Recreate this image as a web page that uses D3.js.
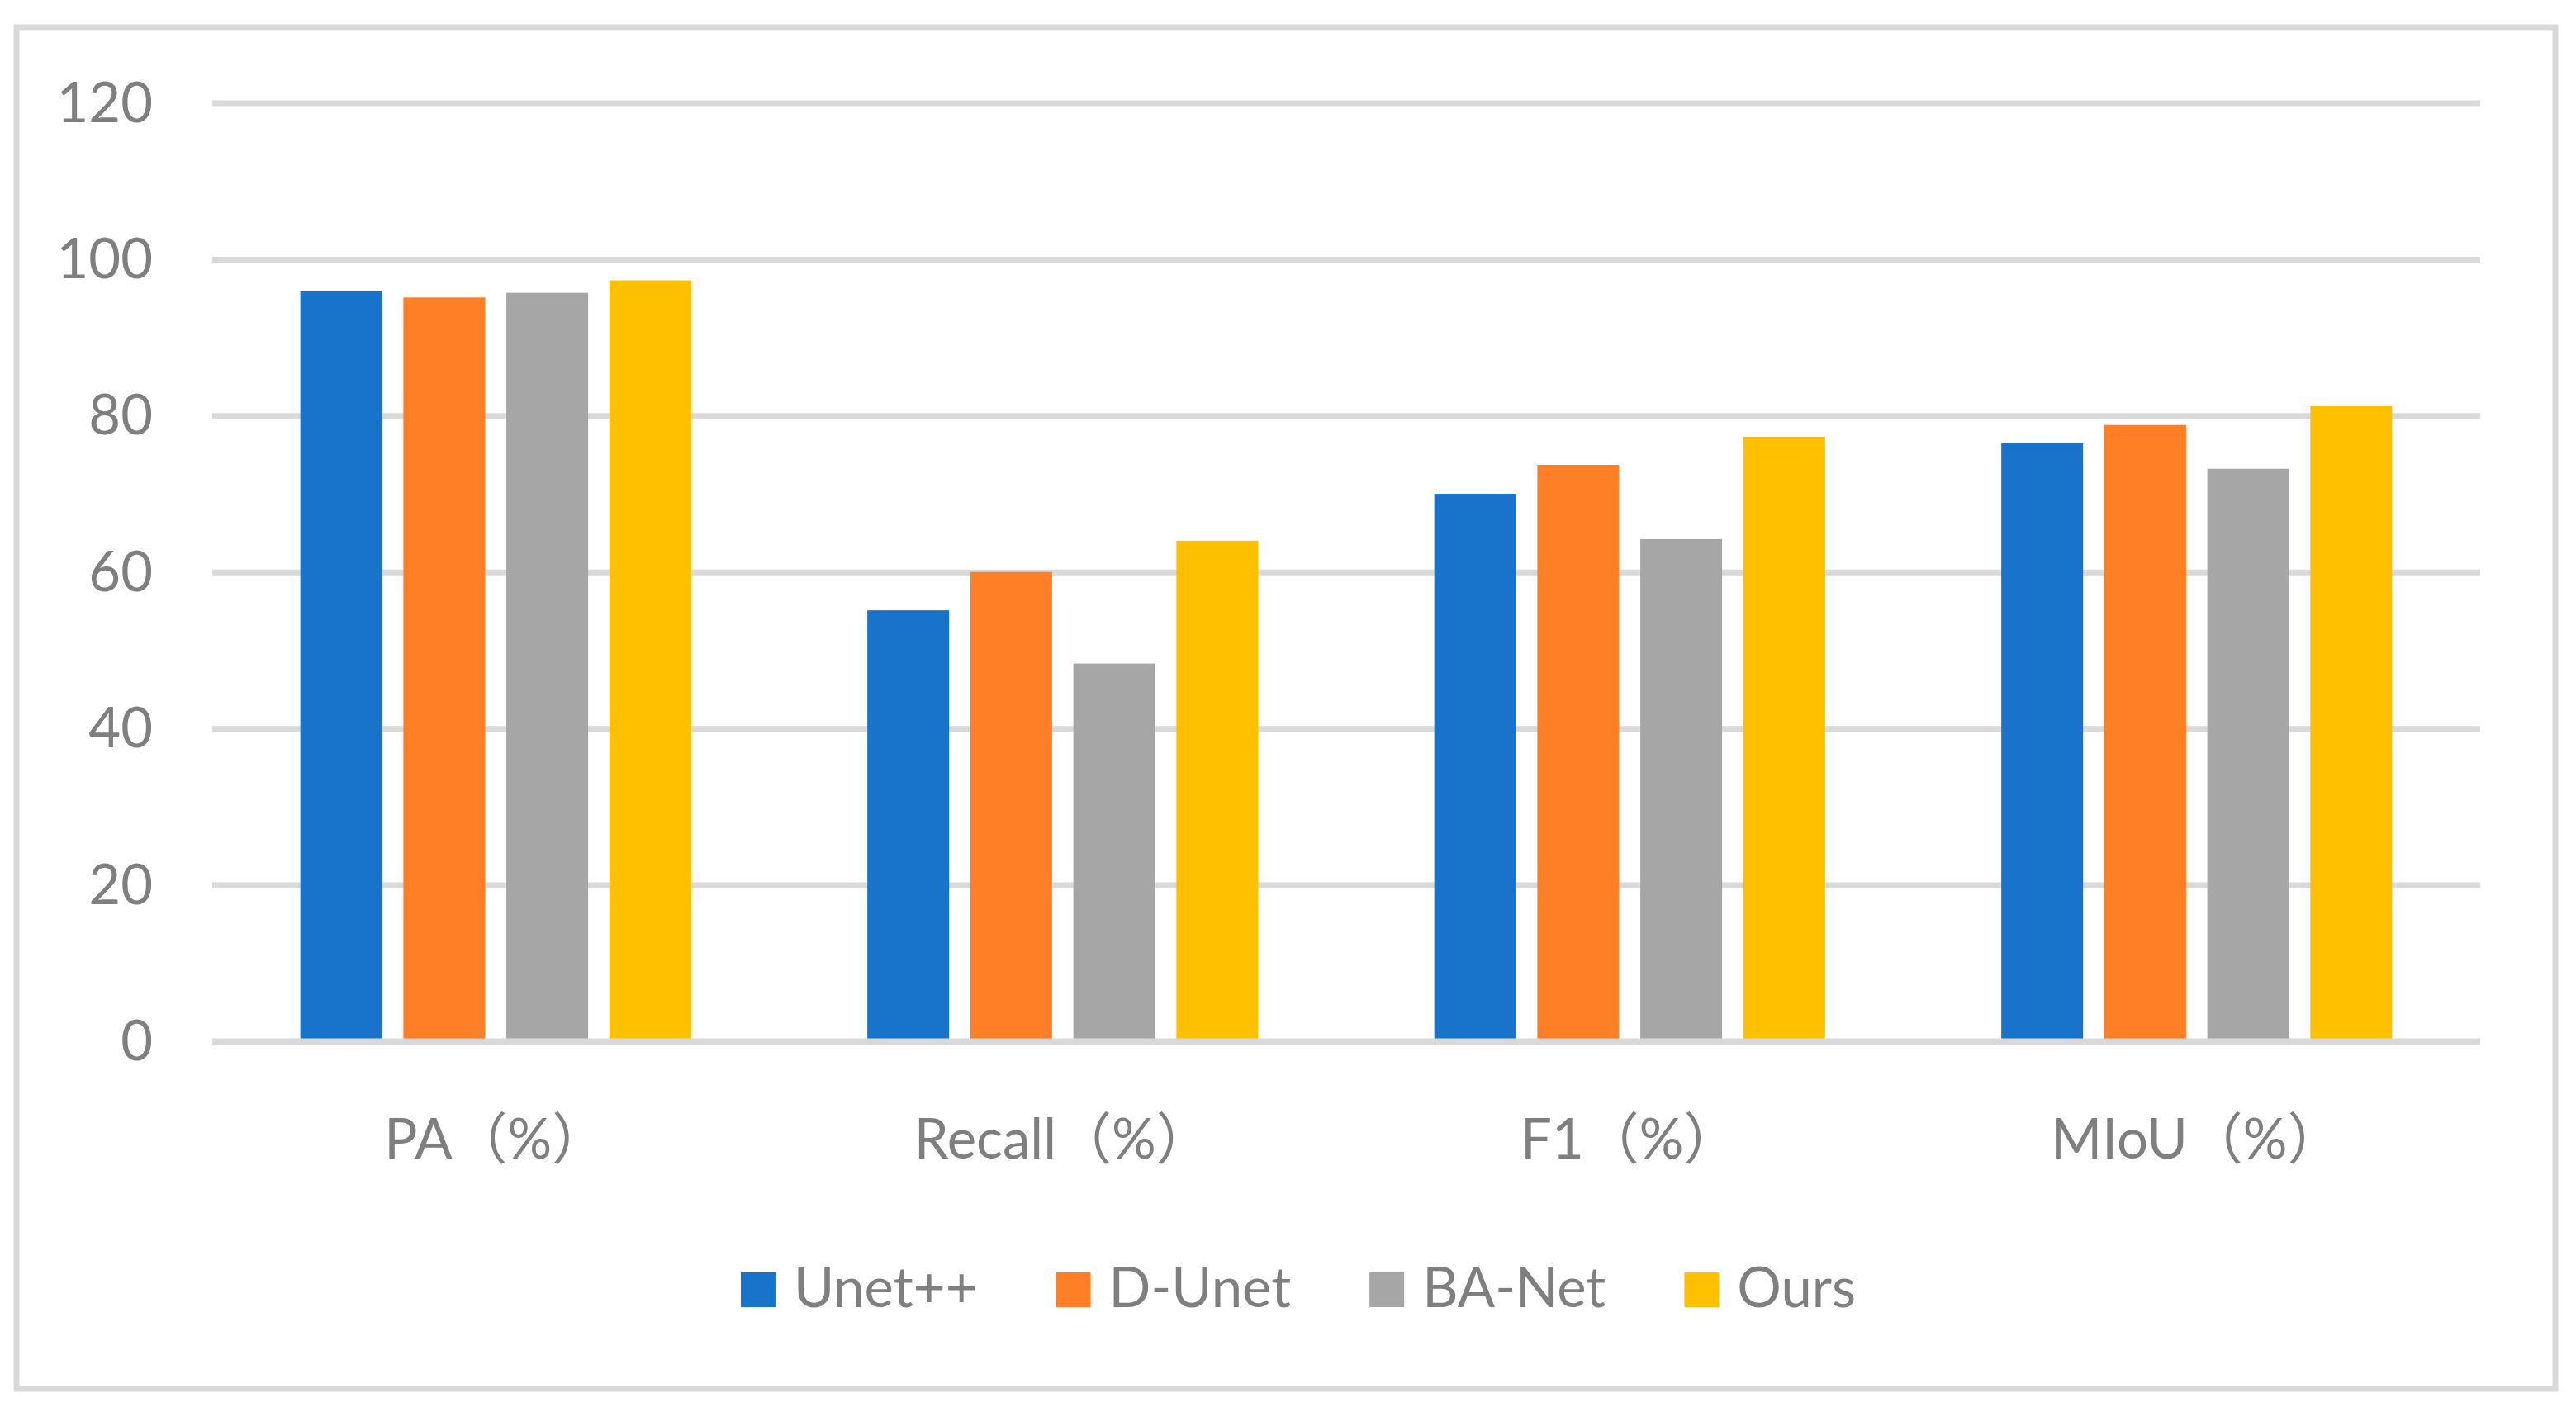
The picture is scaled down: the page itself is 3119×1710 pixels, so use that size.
<!DOCTYPE html>
<html>
<head>
<meta charset="utf-8">
<script src="https://cdn.jsdelivr.net/npm/d3@7"></script>
<style>
  html, body { margin: 0; padding: 0; background: #fff; }
  svg { display: block; }
  text { font-family: Lato, "Noto Sans CJK SC", sans-serif; fill: #7f7f7f; }
</style>
</head>
<body>
<svg id="chart" width="3119" height="1710"></svg>
<script>
// ---- data ----
const categories = ["PA（%）", "Recall（%）", "F1（%）", "MIoU（%）"];
const seriesNames = ["Unet++", "D-Unet", "BA-Net", "Ours"];
const unetpp = [95.9, 55.1, 70.0, 76.5];
const dunet  = [95.1, 60.0, 73.7, 78.8];
const banet  = [95.7, 48.3, 64.2, 73.2];
const ours   = [97.3, 64.0, 77.3, 81.2];
const yTicks = [0, 20, 40, 60, 80, 100, 120];
const colors = ["#1874CB", "#FF7F27", "#A6A6A6", "#FFC000"];

const seriesValues = [unetpp, dunet, banet, ours];

// ---- layout ----
const svg = d3.select("#chart");
const W = 3119, H = 1710;
const plot = { left: 257, right: 3003, top: 124.5, bottom: 1261 };
const fontSize = 67;
const grid = "#d9d9d9";

// outer frame
svg.append("rect")
  .attr("x", 20).attr("y", 33)
  .attr("width", 3074).attr("height", 1649)
  .attr("fill", "#fff")
  .attr("stroke", grid).attr("stroke-width", 7);

const y = d3.scaleLinear().domain([0, 120]).range([plot.bottom, plot.top]);
const x0 = d3.scaleBand().domain(categories).range([plot.left, plot.right]).padding(0);
const x1 = d3.scaleBand().domain(seriesNames).range([0, x0.bandwidth()])
  .paddingInner(0.206).paddingOuter(0.855);

// y axis with gridlines
const yAxis = svg.append("g")
  .attr("transform", `translate(${plot.left},0)`)
  .call(d3.axisLeft(y).tickValues(yTicks).tickSize(-(plot.right - plot.left)).tickPadding(72));
yAxis.select(".domain").remove();
yAxis.selectAll(".tick line").attr("stroke", grid).attr("stroke-width", 7);
yAxis.selectAll(".tick text")
  .attr("dy", "0.336em")
  .style("font-size", fontSize + "px")
  .style("font-family", "Lato, sans-serif")
  .attr("fill", "#7f7f7f");

// bars
const groups = svg.append("g").selectAll("g")
  .data(categories)
  .join("g")
  .attr("transform", d => `translate(${x0(d)},0)`);

groups.selectAll("rect")
  .data((c, i) => seriesNames.map((s, j) => ({ s, v: seriesValues[j][i], c: colors[j] })))
  .join("rect")
  .attr("x", d => x1(d.s))
  .attr("width", x1.bandwidth())
  .attr("y", d => y(d.v))
  .attr("height", d => y(0) - y(d.v))
  .attr("fill", d => d.c);

// zero axis line on top
svg.append("line")
  .attr("x1", plot.left).attr("x2", plot.right)
  .attr("y1", y(0)).attr("y2", y(0))
  .attr("stroke", grid).attr("stroke-width", 7);

// x axis labels
const xAxis = svg.append("g")
  .attr("transform", `translate(0,${plot.bottom})`)
  .call(d3.axisBottom(x0).tickSize(0).tickPadding(0));
xAxis.select(".domain").remove();
xAxis.selectAll(".tick text")
  .attr("y", 142).attr("dy", 0)
  .style("font-size", fontSize + "px")
  .style("font-family", "Lato, 'Noto Sans CJK SC', sans-serif")
  .attr("fill", "#7f7f7f");

// legend
const legend = svg.append("g");
const sw = 42, swGap = 22, itemGap = 95;
const items = legend.selectAll("g").data(seriesNames).join("g");
items.append("rect")
  .attr("width", sw).attr("height", sw)
  .attr("y", 1541)
  .attr("fill", (d, i) => colors[i]);
items.append("text")
  .attr("x", sw + swGap).attr("y", 1583)
  .style("font-size", fontSize + "px")
  .text(d => d);
let cx = 0;
const offs = [];
items.each(function (d, i) {
  const tw = d3.select(this).select("text").node().getComputedTextLength();
  offs.push(cx);
  cx += sw + swGap + tw + (i < seriesNames.length - 1 ? itemGap : 0);
});
const startX = 1572 - cx / 2;
items.attr("transform", (d, i) => `translate(${startX + offs[i]},0)`);
</script>
</body>
</html>
